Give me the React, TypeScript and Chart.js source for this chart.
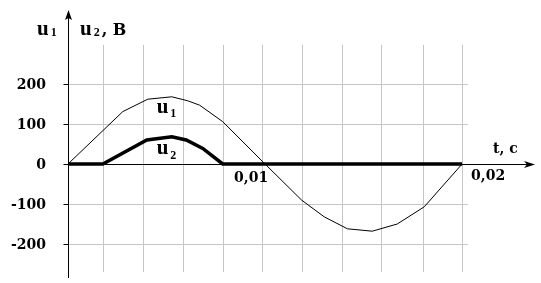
import React, { useEffect, useRef } from "react";
import { Chart, registerables } from "chart.js";
Chart.register(...registerables);

// u1 polyline (time, s ; value, V)
const u1Times = [0, 0.00278, 0.00405, 0.00527, 0.00608, 0.00668, 0.00785, 0.01, 0.01185, 0.013, 0.01418, 0.01544, 0.01671, 0.01808, 0.02];
const u1Values = [0, 131, 162, 168, 158, 147, 106, 0, -90, -132, -162, -168, -150, -107, 0];
// u2 polyline
const u2Times = [0, 0.00177, 0.004, 0.00527, 0.006, 0.00684, 0.00785, 0.02];
const u2Values = [0, 0, 60, 68, 60, 39, 0, 0];
// grid & ticks
const gridTimes = [0.00177, 0.0038, 0.00582, 0.00785, 0.00987, 0.0119, 0.0139, 0.0159, 0.018, 0.02];
const gridValues = [200, 100, -100, -200];
const yTickValues = [200, 100, 0, -100, -200];
const yTickLabels = ["200", "100", "0", "-100", "-200"];
const xTickValues = [0.01, 0.02];
const xTickLabels = ["0,01", "0,02"];

const X_MIN = 0, X_MAX = 0.0237, Y_MIN = -285, Y_MAX = 385;
const GRID_TOP = 298, GRID_BOTTOM = -270, GRID_RIGHT = 0.0203;

const FONT = "bold 14px 'DejaVu Serif'";

function subLabel(ctx: CanvasRenderingContext2D, x: number, y: number, sub: string, rest: string, subDy: number) {
  ctx.textAlign = "left";
  ctx.textBaseline = "alphabetic";
  ctx.font = "bold 21px 'Liberation Serif'";
  ctx.fillText("u", x, y);
  let cx = x + ctx.measureText("u").width + 2;
  ctx.font = "bold 12px 'Liberation Serif'";
  ctx.fillText(sub, cx, y + subDy);
  cx += ctx.measureText(sub).width;
  if (rest) {
    ctx.font = "bold 16px 'DejaVu Serif'";
    ctx.fillText(",", cx + 2, y);
    ctx.fillText("B", cx + 13, y);
  }
}

const decor = {
  id: "decor",
  beforeDatasetsDraw(chart: any) {
    const { ctx, scales } = chart;
    const x = scales.x, y = scales.y;
    const x0 = Math.round(x.getPixelForValue(0)) + 0.5;
    const y0 = Math.round(y.getPixelForValue(0)) + 0.5;
    ctx.save();
    // grid
    ctx.strokeStyle = "#c6c6c6";
    ctx.lineWidth = 1;
    ctx.beginPath();
    for (const t of gridTimes) {
      const px = Math.round(x.getPixelForValue(t)) + 0.5;
      ctx.moveTo(px, y.getPixelForValue(GRID_TOP));
      ctx.lineTo(px, y.getPixelForValue(GRID_BOTTOM));
    }
    for (const v of gridValues) {
      const py = Math.round(y.getPixelForValue(v)) + 0.5;
      ctx.moveTo(x0, py);
      ctx.lineTo(x.getPixelForValue(GRID_RIGHT), py);
    }
    ctx.stroke();
    // axes
    ctx.strokeStyle = "#000";
    ctx.fillStyle = "#000";
    ctx.lineWidth = 1;
    ctx.beginPath();
    ctx.moveTo(x0, y.getPixelForValue(Y_MIN));
    ctx.lineTo(x0, y.getPixelForValue(Y_MAX) + 4);
    ctx.moveTo(x0, y0);
    ctx.lineTo(x.getPixelForValue(X_MAX) - 4, y0);
    for (const v of yTickValues) {
      const py = Math.round(y.getPixelForValue(v)) + 0.5;
      ctx.moveTo(x0 - 5, py);
      ctx.lineTo(x0, py);
    }
    ctx.stroke();
    // arrows
    const ty = y.getPixelForValue(Y_MAX);
    ctx.beginPath();
    ctx.moveTo(x0, ty);
    ctx.lineTo(x0 - 3.5, ty + 10);
    ctx.lineTo(x0, ty + 8);
    ctx.lineTo(x0 + 3.5, ty + 10);
    ctx.closePath();
    ctx.fill();
    const tx = x.getPixelForValue(X_MAX);
    ctx.beginPath();
    ctx.moveTo(tx, y0);
    ctx.lineTo(tx - 11, y0 - 3.5);
    ctx.lineTo(tx - 8, y0);
    ctx.lineTo(tx - 11, y0 + 3.5);
    ctx.closePath();
    ctx.fill();
    ctx.restore();
  },
  afterDatasetsDraw(chart: any) {
    const { ctx, scales } = chart;
    const x = scales.x, y = scales.y;
    const x0 = x.getPixelForValue(0);
    const y0 = y.getPixelForValue(0);
    ctx.save();
    ctx.fillStyle = "#000";
    ctx.font = FONT;
    ctx.textAlign = "right";
    ctx.textBaseline = "middle";
    yTickValues.forEach((v, i) => {
      ctx.fillText(yTickLabels[i], x0 - 22, y.getPixelForValue(v) + 1);
    });
    ctx.textAlign = "left";
    ctx.textBaseline = "alphabetic";
    xTickValues.forEach((t, i) => {
      const px = x.getPixelForValue(t);
      ctx.fillText(xTickLabels[i], px + (i === 0 ? -31 : 9), y0 + (i === 0 ? 18 : 16));
    });
    ctx.fillText("t, c", x.getPixelForValue(X_MAX) - 42, y0 - 11);
    // axis title
    subLabel(ctx, x0 - 31, 35, "1", "", 1);
    subLabel(ctx, x0 + 12, 35, "2", ", B", 1);
    // curve names
    subLabel(ctx, x.getPixelForValue(0.0045), y.getPixelForValue(128), "1", "", 4);
    subLabel(ctx, x.getPixelForValue(0.0045), y.getPixelForValue(25), "2", "", 5);
    ctx.restore();
  },
};

export default function App() {
  const ref = useRef<HTMLCanvasElement | null>(null);
  useEffect(() => {
    document.body.style.margin = "0";
    const canvas = ref.current!;
    const chart = new Chart(canvas, {
      type: "line",
      data: {
        datasets: [
          {
            label: "u1",
            data: u1Times.map((t, i) => ({ x: t, y: u1Values[i] })),
            borderColor: "#000",
            borderWidth: 1,
            pointRadius: 0,
            tension: 0,
            fill: false,
          },
          {
            label: "u2",
            data: u2Times.map((t, i) => ({ x: t, y: u2Values[i] })),
            borderColor: "#000",
            borderWidth: 3.5,
            pointRadius: 0,
            tension: 0,
            fill: false,
          },
        ],
      },
      options: {
        animation: false,
        responsive: false,
        maintainAspectRatio: false,
        layout: { padding: { left: 68, right: 6, top: 10, bottom: 5 } },
        plugins: { legend: { display: false }, tooltip: { enabled: false } },
        scales: {
          x: { type: "linear", min: X_MIN, max: X_MAX, display: false },
          y: { type: "linear", min: Y_MIN, max: Y_MAX, display: false },
        },
      },
      plugins: [decor],
    });
    return () => chart.destroy();
  }, []);
  return <canvas ref={ref} width={541} height={283} style={{ display: "block" }} />;
}
